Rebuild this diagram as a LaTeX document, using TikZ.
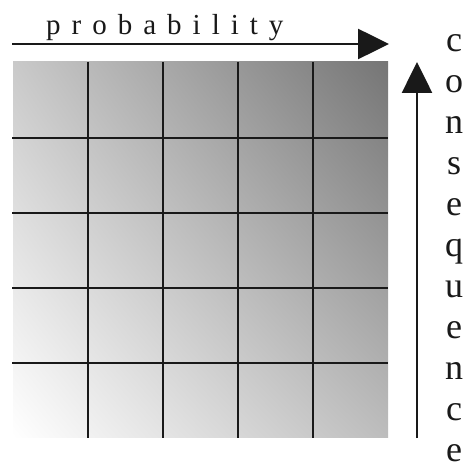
\documentclass[tikz,border=0pt]{standalone}
\usepackage{fontspec}
\setmainfont{Liberation Serif}
\usetikzlibrary{arrows.meta,shadings}
\newcommand{\lsp}{\hspace{11bp}}
\begin{document}
\begin{tikzpicture}[x=1bp,y=-1bp,
  gridline/.style={line width=2.6bp,draw=black!90},
  axisline/.style={line width=2.6bp,draw=black!90,-{Triangle[length=31bp,width=30bp]}},
  lett/.style={anchor=base,inner sep=0pt,font=\fontsize{36bp}{36bp}\selectfont,text=black!90},
  probtext/.style={anchor=base west,inner sep=0pt,font=\fontsize{29bp}{29bp}\selectfont,text=black!90}]
\useasboundingbox[fill=white] (0,0) rectangle (463,472);
% gradient field
\shade[upper left=black!21,upper right=black!54,lower left=white,lower right=black!26]
  (13,62) rectangle (388,437);
% grid
\foreach \x in {88,163,238,313}{
  \coordinate (vt\x) at (\x,62);
  \coordinate (vb\x) at (\x,438);
  \draw[gridline] (vt\x) -- (vb\x);
}
\foreach \y in {138,213,288,363}{
  \coordinate (hl\y) at (12,\y);
  \coordinate (hr\y) at (388,\y);
  \draw[gridline] (hl\y) -- (hr\y);
}
% probability axis
\coordinate (pa) at (12,44);
\coordinate (pb) at (389,44);
\draw[axisline] (pa) -- (pb);
\node[probtext] (prob) at (46,35) {p\lsp r\lsp o\lsp b\lsp a\lsp b\lsp i\lsp l\lsp i\lsp t\lsp y};
% consequence axis
\coordinate (ca) at (417,438);
\coordinate (cb) at (417,62);
\draw[axisline] (ca) -- (cb);
\foreach \ch [count=\i from 0] in {c,o,n,s,e,q,u,e,n,c,e}{
  \node[lett] (cons\i) at (454,{51.5+41*\i}) {\ch};
}
\end{tikzpicture}
\end{document}
